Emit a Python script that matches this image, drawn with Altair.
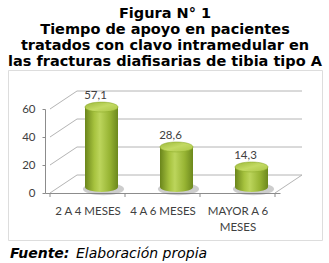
import altair as alt
import pandas as pd

# ---- data ----
categories = ["2 A 4 MESES", "4 A 6 MESES", "MAYOR A 6 MESES"]
category_lines = [["2 A 4 MESES"], ["4 A 6 MESES"], ["MAYOR A 6", "MESES"]]
values = [57.1, 28.6, 14.3]
y_ticks = [0, 20, 40, 60]
title_main = "Figura N° 1"
title_lines = ["Tiempo de apoyo en pacientes",
               "tratados con clavo intramedular en",
               "las fracturas diafisarias de tibia tipo A"]
footer_bold = ["Fuente:"]
footer_italic = ["Elaboración propia"]

n = len(categories)
pos = [i + 0.5 for i in range(n)]
bars = pd.DataFrame({"pos": pos, "val": values, "zero": [0] * n, "cat": categories})
wall_h = pd.DataFrame({"x0": [0] * len(y_ticks), "x1": [n] * len(y_ticks), "v": y_ticks})
wall_d = pd.DataFrame({"xa": [0] * len(y_ticks) + [n], "v": y_ticks + [0]})
ticks = pd.DataFrame({"xb": list(range(n + 1)), "zero": [0] * (n + 1)})

# ---- scales / axes ----
GREY = "#8c8c8c"
WALL = "#b4b4b4"
xs = alt.Scale(domain=[0, n], range=[37, 272], nice=False, zero=False)
ys = alt.Scale(domain=[0, 60], range=[123, 39], nice=False)
label_expr = "[" + ",".join(
    "[" + ",".join("'" + s + "'" for s in lines) + "]" for lines in category_lines
) + "][floor(datum.value)]"
xaxis = alt.Axis(values=pos, ticks=False, domainColor=GREY, offset=-47, grid=False,
                 labelExpr=label_expr, labelFont="Lato", labelFontSize=11.5,
                 labelColor="#404040", labelPadding=12, labelLineHeight=16, title=None)
yaxis = alt.Axis(values=y_ticks, grid=False, domainColor=GREY, tickColor=GREY, tickSize=3,
                 offset=-37, labelFont="Lato", labelFontSize=11.5, labelColor="#404040",
                 labelPadding=7, title=None)


def X(f):
    return alt.X(f, type="quantitative", scale=xs, axis=xaxis)


def Y(f):
    return alt.Y(f, type="quantitative", scale=ys, axis=yaxis)


DX, DY = 27, -18  # depth offset of the back wall
BX, BY = 14, -6   # cylinders stand half-way in depth

ellipse = ("M -1 0 C -1 -0.1657 -0.5523 -0.3 0 -0.3 C 0.5523 -0.3 1 -0.1657 1 0 "
           "C 1 0.1657 0.5523 0.3 0 0.3 C -0.5523 0.3 -1 0.1657 -1 0 Z")

body = alt.Gradient(gradient="linear", x1=0, x2=1, y1=0, y2=0, stops=[
    alt.GradientStop(offset=0, color="#6a851b"),
    alt.GradientStop(offset=0.28, color="#a6c23e"),
    alt.GradientStop(offset=0.45, color="#bcd55c"),
    alt.GradientStop(offset=0.75, color="#97b433"),
    alt.GradientStop(offset=1, color="#6c881d")])
top = alt.Gradient(gradient="linear", x1=0, x2=1, y1=0, y2=1, stops=[
    alt.GradientStop(offset=0, color="#9cb83a"),
    alt.GradientStop(offset=0.5, color="#c3da63"),
    alt.GradientStop(offset=1, color="#aac545")])

back = alt.Chart(wall_h).mark_rule(color=WALL, strokeWidth=1, xOffset=DX, x2Offset=DX,
                                   yOffset=DY).encode(x=X("x0"), x2="x1", y=Y("v"))
diag = alt.Chart(wall_d).mark_rule(color=WALL, strokeWidth=1, x2Offset=DX,
                                   y2Offset=DY).encode(x=X("xa"), x2="xa", y=Y("v"), y2="v")
xt = alt.Chart(ticks).mark_rule(color=GREY, strokeWidth=1, y2Offset=4).encode(
    x=X("xb"), y=Y("zero"), y2="zero")

shadow = alt.Chart(bars).mark_point(shape=ellipse, size=1700, filled=True, color="#6f6f6f",
                                    opacity=0.35, strokeWidth=0, xOffset=BX + 2,
                                    yOffset=BY + 2).encode(x=X("pos"), y=Y("zero"))
bottom = alt.Chart(bars).mark_point(shape=ellipse, size=1089, filled=True, fill=body,
                                    opacity=1, strokeWidth=0, xOffset=BX,
                                    yOffset=BY).encode(x=X("pos"), y=Y("zero"))
cyl = alt.Chart(bars).mark_bar(size=33, color=body, xOffset=BX, yOffset=BY,
                               y2Offset=BY).encode(x=X("pos"), y=Y("val"), y2="zero")
cap = alt.Chart(bars).mark_point(shape=ellipse, size=1089, filled=True, fill=top,
                                 opacity=1, stroke="#8eac2e", strokeWidth=0.6, xOffset=BX,
                                 yOffset=BY).encode(x=X("pos"), y=Y("val"))
lab = alt.Chart(bars).transform_calculate(
    lab="replace(format(datum.val, '.1f'), '.', ',')"
).mark_text(font="Lato", fontSize=11.5, color="#404040", baseline="bottom", align="center",
            xOffset=8, yOffset=-12).encode(x=X("pos"), y=Y("val"), text="lab:N")

foot1 = alt.Chart(pd.DataFrame({"t": footer_bold})).mark_text(
    font="DejaVu Sans", fontSize=14, fontWeight="bold", fontStyle="italic", align="left",
    baseline="alphabetic", color="black").encode(text="t:N", x=alt.value(2), y=alt.value(188))
foot2 = alt.Chart(pd.DataFrame({"t": footer_italic})).mark_text(
    font="DejaVu Sans", fontSize=14, fontStyle="italic", align="left",
    baseline="alphabetic", color="black").encode(text="t:N", x=alt.value(68), y=alt.value(188))

chart = alt.layer(back, diag, xt, shadow, bottom, cyl, cap, lab, foot1, foot2).properties(
    width=314, height=170,
    autosize=alt.AutoSizeParams(type="none"),
    padding={"left": 8, "top": 70, "right": 7, "bottom": 23},
    title=alt.TitleParams(text=title_main, subtitle=title_lines, anchor="middle",
                          font="DejaVu Sans", fontWeight="bold", fontSize=14.5, color="black",
                          subtitleFont="DejaVu Sans", subtitleFontWeight="bold",
                          subtitleFontSize=14.5, subtitleColor="black", subtitleLineHeight=16,
                          subtitlePadding=1, offset=1),
).configure_view(stroke="#858585", strokeWidth=2).configure(background="white")

chart.save("out.html", embed_options={"renderer": "svg", "actions": False})
